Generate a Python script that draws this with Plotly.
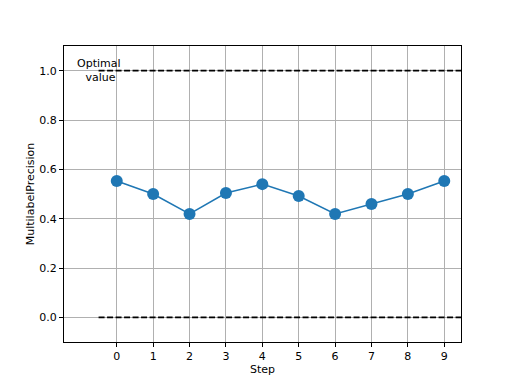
import plotly.graph_objects as go

steps = [0, 1, 2, 3, 4, 5, 6, 7, 8, 9]
precision = [0.553, 0.500, 0.419, 0.504, 0.540, 0.492, 0.419, 0.459, 0.500, 0.553]
optimal_x = [-0.5, 9.5]
optimal_hi = [1.0, 1.0]
optimal_lo = [0.0, 0.0]
y_ticks = [0.0, 0.2, 0.4, 0.6, 0.8, 1.0]

font = dict(family="DejaVu Sans", size=11, color="black")

fig = go.Figure()
fig.add_trace(go.Scatter(x=optimal_x, y=optimal_hi, mode="lines",
                         line=dict(color="black", width=1.7, dash="6px,2.5px"),
                         showlegend=False, hoverinfo="skip"))
fig.add_trace(go.Scatter(x=optimal_x, y=optimal_lo, mode="lines",
                         line=dict(color="black", width=1.7, dash="6px,2.5px"),
                         showlegend=False, hoverinfo="skip"))
fig.add_trace(go.Scatter(x=steps, y=precision, mode="lines+markers",
                         line=dict(color="#1f77b4", width=1.5),
                         marker=dict(color="#1f77b4", size=12),
                         showlegend=False))

fig.add_annotation(x=-0.5, y=1.0, xref="x", yref="y",
                   text="Optimal<br>&nbsp;value", showarrow=False,
                   font=font, align="center", xanchor="center", yanchor="middle")

axis_common = dict(showgrid=True, gridcolor="#b0b0b0", gridwidth=1,
                   showline=True, linecolor="black", linewidth=1, mirror=True,
                   ticks="outside", ticklen=4, tickcolor="black",
                   tickfont=font, zeroline=False)

fig.update_xaxes(range=[-1.45, 9.46], tickvals=steps,
                 title=dict(text="Step", font=font, standoff=2), **axis_common)
fig.update_yaxes(range=[-0.1, 1.1], tickvals=y_ticks, tickformat=".1f",
                 title=dict(text="MultilabelPrecision", font=font, standoff=2), **axis_common)

fig.update_layout(width=512, height=384, plot_bgcolor="white", paper_bgcolor="white",
                  margin=dict(l=56, r=59, t=38, b=50), font=font)

fig.write_html("out.html")
